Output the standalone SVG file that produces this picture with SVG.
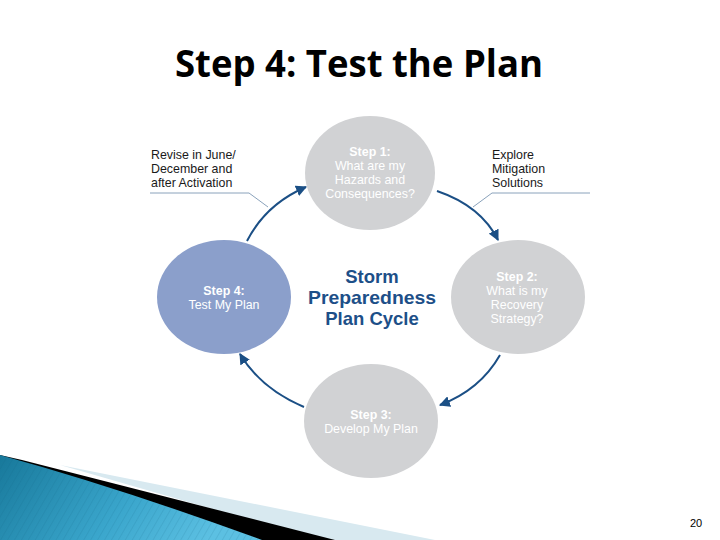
<svg xmlns="http://www.w3.org/2000/svg" width="720" height="540" viewBox="0 0 720 540">
<defs>
<style>
.title{font-family:"Open Sans","Liberation Sans",sans-serif;font-weight:bold;font-size:38px;fill:#000}
.ct{font-family:"Liberation Sans",Arial,sans-serif;font-size:12.4px;fill:#ffffff;text-anchor:middle}
.ct .b{font-weight:bold}
.center{font-family:"Liberation Sans",Arial,sans-serif;font-weight:bold;font-size:18.5px;fill:#1d4f88;text-anchor:middle}
.lbl{font-family:"Liberation Sans",Arial,sans-serif;font-size:12.4px;fill:#1a1a1a}
.gray{fill:#d1d2d4}
.blue{fill:#8b9fcb}
.arr{fill:none;stroke:#1b4f85;stroke-width:2}
.lead{fill:none;stroke:#8aa2bb;stroke-width:1}
.pg{font-family:"Liberation Sans",Arial,sans-serif;font-size:11px;fill:#000}
</style>
<marker id="ah" viewBox="0 0 10 10" refX="9" refY="5" markerWidth="5.5" markerHeight="5.5" orient="auto" markerUnits="strokeWidth">
<path d="M0,0 L10,5 L0,10 z" fill="#1b4f85"/>
</marker>
<linearGradient id="bg" x1="0" y1="0" x2="1" y2="0.3">
<stop offset="0" stop-color="#17789a"/>
<stop offset="0.6" stop-color="#3aa6cc"/>
<stop offset="1" stop-color="#5cc0e2"/>
</linearGradient>
<pattern id="stripes" width="6" height="6" patternUnits="userSpaceOnUse" patternTransform="rotate(30)">
<line x1="0" y1="0" x2="0" y2="6" stroke="#0d5f7c" stroke-width="1" opacity="0.25"/>
</pattern>
</defs>

<rect width="720" height="540" fill="#ffffff"/>

<g id="decoration">
<polygon points="60,465 435,540 320,540" fill="#d8e9f0"/>
<polygon points="22,460 335,540 0,540 0,455" fill="#000000"/>
<path d="M0,455 Q120,488 262,540 L0,540 Z" fill="url(#bg)"/>
<path d="M0,455 Q120,488 262,540 L0,540 Z" fill="url(#stripes)"/>
</g>

<text class="title" x="175" y="77" textLength="368" lengthAdjust="spacingAndGlyphs">Step 4: Test the Plan</text>

<g id="connectors">
<path class="arr" d="M247,241 Q266,204 306,187" marker-end="url(#ah)"/>
<path class="arr" d="M437,191 Q481,206 498,240" marker-end="url(#ah)"/>
<path class="arr" d="M500,355 Q480,390 440,405" marker-end="url(#ah)"/>
<path class="arr" d="M304,407 Q261,389 240,354" marker-end="url(#ah)"/>
<polyline class="lead" points="150,193 249,193 268,207"/>
<polyline class="lead" points="590,193 492,193 473,207"/>
</g>

<g id="step1">
<ellipse class="gray" cx="370" cy="173" rx="65" ry="57"/>
<text class="ct" x="370"><tspan class="b" x="370" y="156">Step 1:</tspan><tspan x="370" y="170">What are my</tspan><tspan x="370" y="184">Hazards and</tspan><tspan x="370" y="198">Consequences?</tspan></text>
</g>

<g id="step2">
<ellipse class="gray" cx="518" cy="297" rx="67" ry="57"/>
<text class="ct" x="517"><tspan class="b" x="517" y="281">Step 2:</tspan><tspan x="517" y="295">What is my</tspan><tspan x="517" y="309">Recovery</tspan><tspan x="517" y="323">Strategy?</tspan></text>
</g>

<g id="step3">
<ellipse class="gray" cx="371" cy="421" rx="67" ry="57"/>
<text class="ct" x="371"><tspan class="b" x="371" y="419">Step 3:</tspan><tspan x="371" y="433">Develop My Plan</tspan></text>
</g>

<g id="step4">
<ellipse class="blue" cx="224" cy="297" rx="67" ry="57"/>
<text class="ct" x="224"><tspan class="b" x="224" y="295">Step 4:</tspan><tspan x="224" y="309">Test My Plan</tspan></text>
</g>

<g id="center">
<text class="center"><tspan x="372" y="283">Storm</tspan><tspan x="372" y="304" textLength="128" lengthAdjust="spacingAndGlyphs">Preparedness</tspan><tspan x="372" y="325">Plan Cycle</tspan></text>
</g>

<g id="label-revise">
<text class="lbl"><tspan x="151" y="159">Revise in June/</tspan><tspan x="151" y="173">December and</tspan><tspan x="151" y="187">after Activation</tspan></text>
</g>

<g id="label-explore">
<text class="lbl"><tspan x="492" y="159">Explore</tspan><tspan x="492" y="173">Mitigation</tspan><tspan x="492" y="187">Solutions</tspan></text>
</g>

<text class="pg" x="690" y="527">20</text>
</svg>
